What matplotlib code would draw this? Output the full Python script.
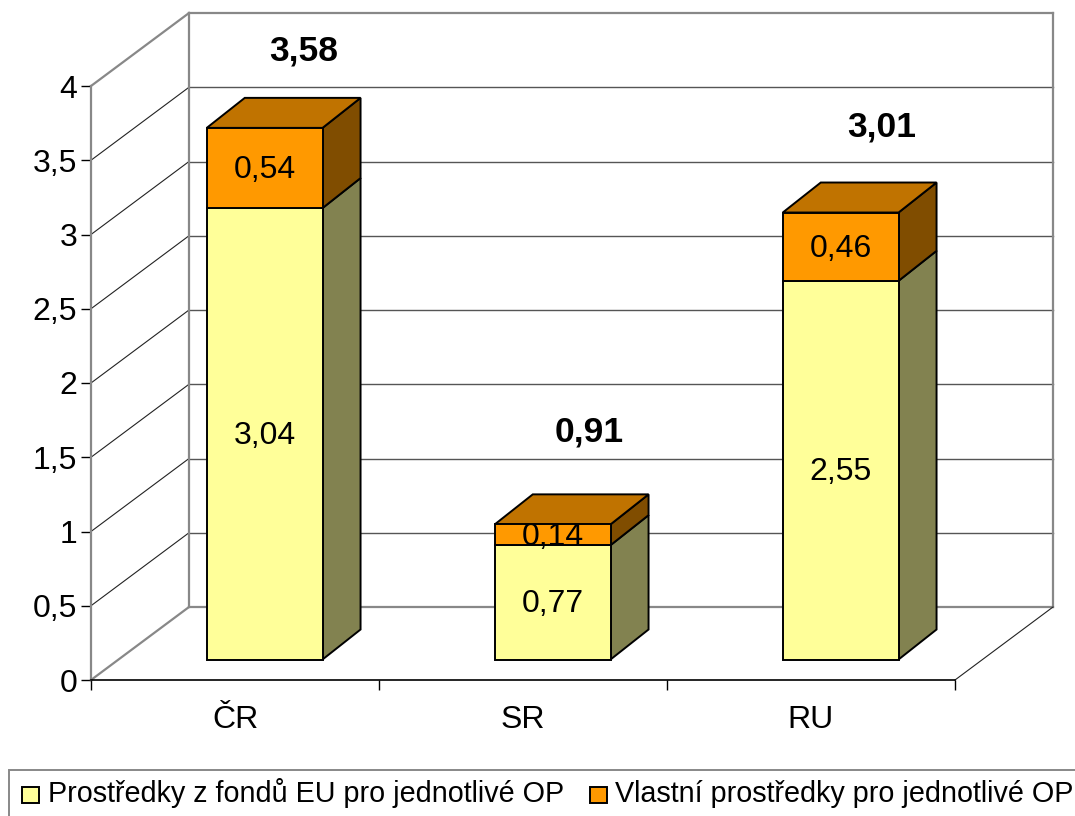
import matplotlib
matplotlib.use('Agg')
import matplotlib.pyplot as plt
from matplotlib.patches import Polygon, Rectangle
from matplotlib.transforms import Affine2D

plt.rcParams['font.family'] = ['Liberation Sans', 'DejaVu Sans']

categories = ['ČR', 'SR', 'RU']
eu_funds = [3.04, 0.77, 2.55]
own_funds = [0.54, 0.14, 0.46]
totals = ['3,58', '0,91', '3,01']
y_ticks = [0, 0.5, 1, 1.5, 2, 2.5, 3, 3.5, 4]
y_tick_labels = ['0', '0,5', '1', '1,5', '2', '2,5', '3', '3,5', '4']
legend_labels = ['Prostředky z fondů EU pro jednotlivé OP', 'Vlastní prostředky pro jednotlivé OP']

W, H = 1075, 816
fig = plt.figure(figsize=(W / 100, H / 100), dpi=100, facecolor='white')
# front plane of the fake 3d box, in pixels
left, right, top, bottom = 91, 955, 86, 680
ax = fig.add_axes([left / W, 1 - bottom / H, (right - left) / W, (bottom - top) / H])
ax.set_xlim(0, 3)
ax.set_ylim(0, 4)
ax.patch.set_visible(False)

ux = (right - left) / 3
uy = (bottom - top) / 4
wall_dx, wall_dy = 98 / ux, 73 / uy
depth_dx, depth_dy = 38 / ux, 30 / uy
base = 20.5 / uy

gray = '#888888'
grid = '#555555'

# back wall and floor
for t in y_ticks:
    ax.plot([wall_dx, 3 + wall_dx], [t + wall_dy, t + wall_dy], color=grid if t not in (0, 4) else gray,
            lw=1.0 if t not in (0, 4) else 1.6, clip_on=False, zorder=1)
    ax.plot([0, wall_dx], [t, t + wall_dy], color='#222222' if t not in (0, 4) else gray,
            lw=0.8 if t not in (0, 4) else 1.6, clip_on=False, zorder=1)
ax.plot([wall_dx, wall_dx], [wall_dy, 4 + wall_dy], color=gray, lw=1.6, clip_on=False, zorder=1)
ax.plot([3 + wall_dx, 3 + wall_dx], [wall_dy, 4 + wall_dy], color=gray, lw=1.6, clip_on=False, zorder=1)
ax.plot([3, 3 + wall_dx], [0, wall_dy], color='#222222', lw=0.8, clip_on=False, zorder=1)

x_pos = [i + 0.603 for i in range(3)]
bw = 0.402
eu_bottom = [base] * 3
own_bottom = [base + v for v in eu_funds]
ax.bar(x_pos, eu_funds, bw, bottom=eu_bottom, color='#FFFF99', edgecolor='black', lw=1.4, zorder=3,
       clip_on=False)
ax.bar(x_pos, own_funds, bw, bottom=own_bottom, color='#FF9900', edgecolor='black', lw=1.4, zorder=3,
       clip_on=False)


def side(x, y0, y1, color):
    xr = x + bw / 2
    ax.add_patch(Polygon([(xr, y0), (xr + depth_dx, y0 + depth_dy), (xr + depth_dx, y1 + depth_dy), (xr, y1)],
                         fc=color, ec='black', lw=1.4, zorder=2, clip_on=False))


shift = 2 / uy
for i, x in enumerate(x_pos):
    y1 = own_bottom[i]
    y2 = y1 + own_funds[i]
    side(x, base, y1, '#828250')
    side(x, y1, y2, '#804D00')
    xl = x - bw / 2
    xr = x + bw / 2
    ax.add_patch(Polygon([(xl, y2), (xr, y2), (xr + depth_dx, y2 + depth_dy), (xl + depth_dx, y2 + depth_dy)],
                         fc='#C07300', ec='black', lw=1.4, zorder=2, clip_on=False))
    ax.text(x, base + eu_funds[i] / 2 - shift, f'{eu_funds[i]:.2f}'.replace('.', ','), ha='center', va='center',
            fontsize=23, zorder=5)
    ax.text(x, y1 + own_funds[i] / 2 - shift, f'{own_funds[i]:.2f}'.replace('.', ','), ha='center', va='center',
            fontsize=23, zorder=5)

# totals above the bars
total_dx = [39, 37, 41]
total_dy = [77, 92, 86]
for i, x in enumerate(x_pos):
    y2 = own_bottom[i] + own_funds[i]
    ax.text(x + total_dx[i] / ux, y2 + total_dy[i] / uy, totals[i], ha='center', va='center',
            fontsize=25.5, fontweight='bold', zorder=5, clip_on=False)

# axes
ax.spines['top'].set_visible(False)
ax.spines['right'].set_visible(False)
ax.spines['left'].set_color(gray)
ax.spines['left'].set_linewidth(1.6)
ax.spines['bottom'].set_color('black')
ax.spines['bottom'].set_linewidth(1.2)
ax.set_yticks(y_ticks)
ax.set_yticklabels(y_tick_labels, fontsize=23)
ax.tick_params(axis='y', length=7, width=1, color='black', pad=3)
ax.set_xticks([0, 1, 2, 3])
ax.set_xticklabels([])
ax.tick_params(axis='x', length=7, width=1, color='black')
ax.set_xticks([0.5, 1.5, 2.5], minor=True)
ax.set_xticklabels(categories, minor=True, fontsize=23)
ax.tick_params(axis='x', which='minor', length=0, pad=18)

# legend box, runs off the figure like in the original
px = Affine2D().scale(1, -1).translate(0, H)
fig.add_artist(Rectangle((9, 770), 1100, 80, transform=px, fc='white', ec=gray, lw=1.4))
fig.add_artist(Rectangle((22, 787), 17, 16, transform=px, fc='#FFFF99', ec='black', lw=1.4))
fig.add_artist(Rectangle((590, 787), 17, 16, transform=px, fc='#FF9900', ec='black', lw=1.4))
fig.text(48, H - 802, legend_labels[0], transform=None, fontsize=20.7, va='baseline', ha='left')
fig.text(615, H - 802, legend_labels[1], transform=None, fontsize=20.7, va='baseline', ha='left')

fig.savefig('out.png', dpi=100)
